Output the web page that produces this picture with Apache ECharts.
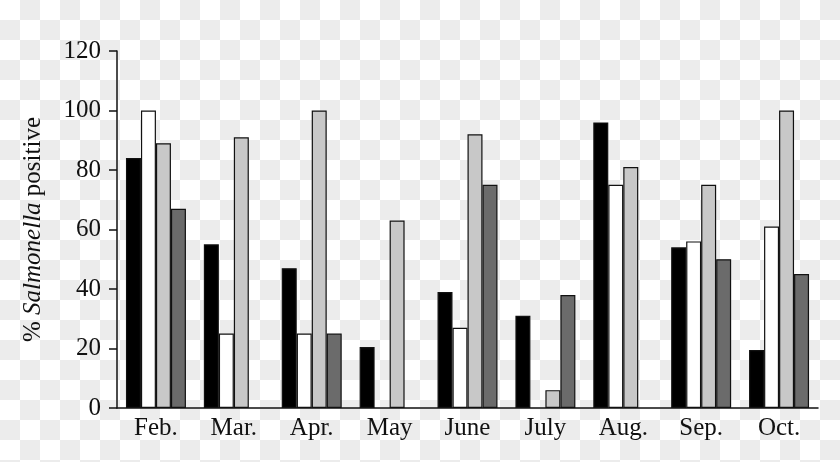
<!DOCTYPE html>
<html>
<head>
<meta charset="utf-8">
<script src="https://cdn.jsdelivr.net/npm/echarts@6/dist/echarts.min.js"></script>
<style>
    html, body { margin: 0; padding: 0; }
    #chart {
        width: 840px;
        height: 462px;
        background: repeating-conic-gradient(#ececec 0 25%, #ffffff 0 50%) 0 0 / 40px 40px;
    }
</style>
</head>
<body>
<div id="chart"></div>
<script>
// 月份
var months = ['Feb.', 'Mar.', 'Apr.', 'May', 'June', 'July', 'Aug.', 'Sep.', 'Oct.'];
// 四组数据（null 表示没有柱子）
var group1 = [84, 55, 47, 20.5, 39, 31, 96, 54, 19.5];
var group2 = [100, 25, 25, null, 27, null, 75, 56, 61];
var group3 = [89, 91, 100, 63, 92, 6, 81, 75, 100];
var group4 = [67, null, 25, null, 75, 38, null, 50, 45];
var yTicks = { min: 0, max: 120, interval: 20 };

var chart = echarts.init(document.getElementById('chart'), null, { renderer: 'canvas' });

var font = '"Liberation Serif", "DejaVu Serif", serif';

function barSeries(name, data, color) {
    return {
        name: name,
        type: 'bar',
        data: data,
        barGap: '0%',
        barCategoryGap: '23%',
        itemStyle: {
            color: color,
            borderColor: '#111',
            borderWidth: 1.2
        }
    };
}

var option = {
    backgroundColor: 'transparent',
    animation: false,
    grid: {
        left: 117,
        right: 22,
        top: 51,
        bottom: 54
    },
    xAxis: {
        type: 'category',
        data: months,
        axisLine: { lineStyle: { color: '#111', width: 1.5 } },
        axisTick: { show: false },
        axisLabel: {
            color: '#111',
            fontFamily: font,
            fontSize: 25,
            margin: 8
        }
    },
    yAxis: {
        type: 'value',
        min: yTicks.min,
        max: yTicks.max,
        interval: yTicks.interval,
        name: '{a|% }{b|Salmonella}{a| positive}',
        nameLocation: 'middle',
        nameRotate: 90,
        nameGap: 71,
        nameTextStyle: {
            rich: {
                a: { fontFamily: font, fontSize: 25, color: '#111' },
                b: { fontFamily: font, fontSize: 25, fontStyle: 'italic', color: '#111' }
            }
        },
        axisLine: { show: true, lineStyle: { color: '#111', width: 1.5 } },
        axisTick: { show: true, length: 8, lineStyle: { color: '#111', width: 1.5 } },
        splitLine: { show: false },
        axisLabel: {
            color: '#111',
            fontFamily: font,
            fontSize: 25,
            margin: 16
        }
    },
    series: [
        barSeries('Group 1', group1, '#000000'),
        barSeries('Group 2', group2, '#ffffff'),
        barSeries('Group 3', group3, '#c8c8c8'),
        barSeries('Group 4', group4, '#6b6b6b')
    ]
};

chart.setOption(option);
</script>
</body>
</html>
